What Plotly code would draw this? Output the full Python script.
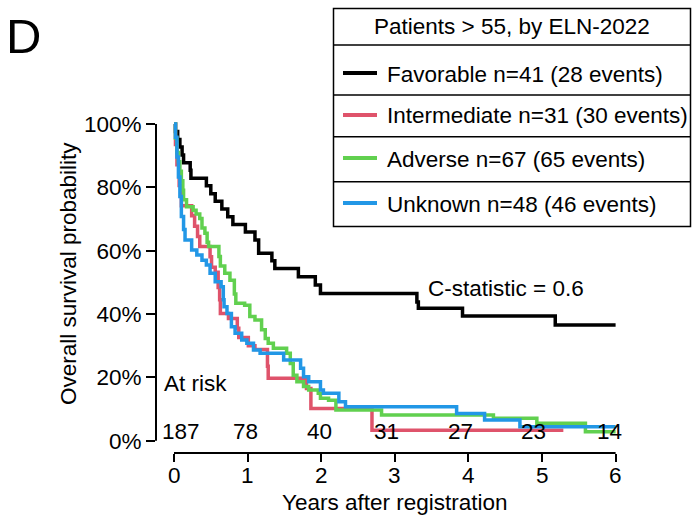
import plotly.graph_objects as go

# ---------------- data ----------------
fav_t = [0, 0.02, 0.05, 0.08, 0.11, 0.13, 0.22, 0.23, 0.44, 0.50, 0.56, 0.65, 0.73, 0.80, 0.97,
         1.10, 1.15, 1.33, 1.37, 1.69, 1.92, 1.99, 3.30, 3.32, 3.92, 5.18, 6.0]
fav_s = [100, 97.6, 95.1, 92.7, 90.2, 87.8, 85.4, 82.9, 80.5, 78.0, 75.6, 73.2, 70.7, 68.3, 65.9,
         63.4, 59.2, 56.8, 54.4, 51.8, 49.2, 46.5, 43.8, 41.8, 39.4, 36.5, 36.5]

int_t = [0, 0.02, 0.04, 0.07, 0.10, 0.24, 0.28, 0.32, 0.35, 0.49, 0.51, 0.56, 0.60, 0.62, 0.63,
         0.74, 0.86, 0.88, 1.01, 1.10, 1.27, 1.28, 1.80, 1.86, 2.69, 5.29]
int_s = [100, 93.5, 87.1, 80.6, 74.2, 71.0, 67.7, 64.5, 61.3, 58.1, 54.8, 53.2, 48.4, 44.5, 40.2,
         38.6, 35.5, 32.6, 30.0, 28.8, 23.5, 19.7, 16.5, 10.2, 3.3, 3.3]

adv_t = [0, 0.02, 0.04, 0.06, 0.08, 0.10, 0.12, 0.13, 0.17, 0.26, 0.30, 0.35, 0.38, 0.42, 0.45,
         0.47, 0.61, 0.63, 0.69, 0.76, 0.82, 0.84, 0.96, 1.03, 1.10, 1.19, 1.24, 1.28, 1.35, 1.53,
         1.58, 1.62, 1.67, 1.76, 1.83, 1.96, 1.99, 2.10, 2.20, 2.82, 4.34, 4.93, 5.59, 6.0]
adv_s = [100, 95.5, 91.0, 88.1, 85.1, 82.1, 79.1, 76.1, 73.9, 72.8, 71.6, 70.2, 67.2, 65.5, 62.7,
         61.3, 58.2, 55.2, 52.9, 50.7, 46.3, 43.4, 42.8, 39.2, 38.1, 35.0, 32.3, 30.8, 29.2, 27.6,
         24.4, 20.7, 18.6, 17.1, 16.0, 15.0, 13.4, 12.8, 9.7, 8.1, 7.1, 5.5, 2.8, 2.8]

unk_t = [0, 0.02, 0.04, 0.06, 0.08, 0.10, 0.13, 0.15, 0.24, 0.31, 0.38, 0.44, 0.49, 0.56, 0.64,
         0.67, 0.68, 0.72, 0.78, 0.83, 0.92, 0.99, 1.08, 1.17, 1.49, 1.72, 1.76, 1.83, 1.99, 2.03,
         2.24, 2.33, 3.84, 4.22, 4.70, 6.0]
unk_s = [100, 95.8, 89.6, 83.3, 77.1, 70.8, 66.7, 63.4, 60.2, 58.6, 57.0, 55.5, 52.9, 50.2, 48.6,
         44.5, 42.3, 40.2, 36.0, 33.9, 31.8, 30.8, 28.6, 27.6, 25.5, 22.9, 20.2, 18.6, 16.0, 15.0,
         12.3, 10.7, 8.6, 6.5, 4.4, 4.4]

series_names = ["Favorable n=41 (28 events)", "Intermediate n=31 (30 events)",
                "Adverse n=67 (65 events)", "Unknown n=48 (46 events)"]
series_colors = ["#000000", "#DF536B", "#61D04F", "#2297E6"]

risk_times = [0, 1, 2, 3, 4, 5, 6]
risk_counts = [187, 78, 40, 31, 27, 23, 14]

x_ticks = [0, 1, 2, 3, 4, 5, 6]
x_tick_labels = ["0", "1", "2", "3", "4", "5", "6"]
y_ticks = [0, 20, 40, 60, 80, 100]
y_tick_labels = ["0%", "20%", "40%", "60%", "80%", "100%"]

legend_title = "Patients > 55, by ELN-2022"
c_stat_text = "C-statistic = 0.6"

# ---------------- layout geometry (pixels) ----------------
W, H = 692, 517
L, R, T, B = 156, 630, 118, 453
PX_PER_YR = 73.6
X0_PX = 174
PX_PER_PCT = 3.167
Y0_PX = 440.7

x_range = [(L - X0_PX) / PX_PER_YR, (R - X0_PX) / PX_PER_YR]
y_range = [(Y0_PX - B) / PX_PER_PCT, (Y0_PX - T) / PX_PER_PCT]


def px(xp):
    return (xp - L) / (R - L)


def py(yp):
    return (B - yp) / (B - T)


FONT = "Arial, Liberation Sans, sans-serif"
FS = 22.5

fig = go.Figure()
for t, s, c in zip([fav_t, int_t, adv_t, unk_t], [fav_s, int_s, adv_s, unk_s], series_colors):
    fig.add_trace(go.Scatter(x=t, y=s, mode="lines", line=dict(color=c, width=3.5, shape="hv"),
                             showlegend=False, hoverinfo="skip"))

shapes = []
# axis lines (detached R-style axes)
shapes.append(dict(type="line", xref="x", yref="paper", x0=0, x1=6, y0=0, y1=0,
                   line=dict(color="black", width=2)))
shapes.append(dict(type="line", xref="paper", yref="y", x0=0, x1=0, y0=0, y1=100,
                   line=dict(color="black", width=2)))

# legend box
bx0, bx1, by0, by1 = 333.5, 690.5, 8.5, 226.5
shapes.append(dict(type="rect", xref="paper", yref="paper", x0=px(bx0), x1=px(bx1),
                   y0=py(by1), y1=py(by0), line=dict(color="black", width=1.5),
                   fillcolor="rgba(0,0,0,0)"))
for yd in [45, 95, 136.7, 181.7]:
    shapes.append(dict(type="line", xref="paper", yref="paper", x0=px(bx0), x1=px(bx1),
                       y0=py(yd), y1=py(yd), line=dict(color="black", width=1.5)))

row_centers = [73, 115, 158, 203]
annotations = []
for yc, name, col in zip(row_centers, series_names, series_colors):
    shapes.append(dict(type="line", xref="paper", yref="paper", x0=px(343), x1=px(377),
                       y0=py(yc), y1=py(yc), line=dict(color=col, width=4)))
    annotations.append(dict(xref="paper", yref="paper", x=px(385), y=py(yc + 1), text=name,
                            showarrow=False, xanchor="left", yanchor="middle",
                            font=dict(family=FONT, size=FS, color="black")))

annotations.append(dict(xref="paper", yref="paper", x=px(512), y=py(27), text=legend_title,
                        showarrow=False, xanchor="center", yanchor="middle",
                        font=dict(family=FONT, size=FS, color="black")))

# panel letter
annotations.append(dict(xref="paper", yref="paper", x=px(4), y=py(36), text="D",
                        showarrow=False, xanchor="left", yanchor="middle",
                        font=dict(family=FONT, size=49, color="black")))

# C statistic
annotations.append(dict(xref="paper", yref="paper", x=px(426), y=py(288), text=c_stat_text,
                        showarrow=False, xanchor="left", yanchor="middle",
                        font=dict(family=FONT, size=FS, color="black")))

# At risk
annotations.append(dict(xref="paper", yref="paper", x=px(162), y=py(383), text="At risk",
                        showarrow=False, xanchor="left", yanchor="middle",
                        font=dict(family=FONT, size=FS, color="black")))
risk_shift = [7, -2, -2, -8, -8, -9, -6]
for t, n, sh in zip(risk_times, risk_counts, risk_shift):
    annotations.append(dict(xref="x", yref="paper", x=t, y=py(431), text=str(n),
                            showarrow=False, xanchor="center", yanchor="middle", xshift=sh,
                            font=dict(family=FONT, size=FS, color="black")))

# x tick labels (placed like R's axis labels)
for t, lab in zip(x_ticks, x_tick_labels):
    annotations.append(dict(xref="x", yref="paper", x=t, y=py(475), text=lab,
                            showarrow=False, xanchor="center", yanchor="middle",
                            font=dict(family=FONT, size=FS, color="black")))

# axis titles
annotations.append(dict(xref="paper", yref="paper", x=px(395), y=py(502),
                        text="Years after registration", showarrow=False,
                        xanchor="center", yanchor="middle",
                        font=dict(family=FONT, size=FS, color="black")))
annotations.append(dict(xref="paper", yref="paper", x=px(68), y=py(274),
                        text="Overall survival probability", showarrow=False, textangle=-90,
                        xanchor="center", yanchor="middle",
                        font=dict(family=FONT, size=FS, color="black")))

fig.update_layout(
    width=W, height=H,
    margin=dict(l=L, r=W - R, t=T, b=H - B, pad=0),
    plot_bgcolor="white", paper_bgcolor="white",
    shapes=shapes, annotations=annotations,
    xaxis=dict(range=x_range, tickmode="array", tickvals=x_ticks,
               showticklabels=False, ticks="outside", ticklen=8, tickwidth=2,
               tickcolor="black", showline=False, showgrid=False, zeroline=False),
    yaxis=dict(range=y_range, tickmode="array", tickvals=y_ticks, ticktext=y_tick_labels,
               ticks="outside", ticklen=9, tickwidth=2, tickcolor="black", showline=False,
               showgrid=False, zeroline=False,
               tickfont=dict(family=FONT, size=FS, color="black")),
)

fig.write_html("out.html", config={"displayModeBar": False},
               post_script="document.body.style.margin='0';document.body.style.overflow='hidden';")
